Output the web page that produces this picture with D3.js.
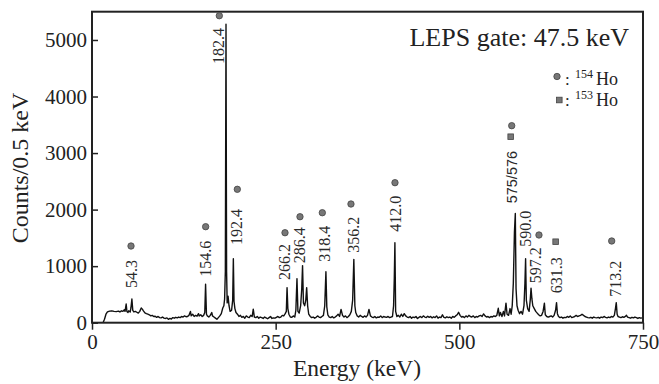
<!DOCTYPE html>
<html>
<head>
<meta charset="utf-8">
<script src="https://cdn.jsdelivr.net/npm/d3@7"></script>
<style>
  html, body { margin: 0; padding: 0; background: #fff; }
  svg { display: block; font-family: "Liberation Serif", "Times New Roman", serif; }
</style>
</head>
<body>
<div id="chart"></div>
<script>
// spectrum: [energy keV, counts]
const spectrum = [
  [15,0],[17,60],[19,150],[21,190],[24,205],[27,210],[30,200],[33,195],[36,205],[38,190],[40,210],[42,200],[44,230],[45,200],
  [46.5,330],[47.5,200],[49,180],[50,210],[52,190],[53,260],[54.3,420],[55.5,220],[57,190],[59,200],[61,185],[63,170],[65,200],
  [67,260],[68.5,240],[70,210],[72,175],[74,160],[76,150],[78,140],[80,120],[82,130],[84,110],[86,115],[88,95],[90,110],[92,90],
  [94,85],[96,100],[98,80],[100,75],[102,85],[104,60],[106,75],[108,65],[110,90],[112,80],[114,95],[116,85],[118,100],[120,90],
  [122,110],[124,100],[126,120],[128,105],[130,110],[132,130],[134,200],[135,120],[137,150],[139,110],[141,130],[143,115],[145,160],
  [146,120],[148,140],[150,110],[152,130],[153.5,180],[154.6,680],[155.8,150],[157,120],[159,100],[161,130],[163,180],[164,120],
  [166,100],[168,80],[170,60],[172,90],[174,120],[176,160],[178,260],[179.5,300],[180.5,420],[181.5,900],[182.4,5280],[183.2,900],
  [184,350],[185.2,470],[186.5,300],[188,200],[190,220],[191.5,400],[192.4,1130],[193.3,380],[194.5,250],[196,180],[198,150],
  [200,110],[202,130],[204,95],[206,110],[208,80],[210,120],[212,100],[214,90],[216,130],[218,110],[219.5,240],[221,100],[223,90],
  [225,110],[227,80],[229,100],[231,90],[233,75],[235,100],[237,85],[239,70],[241,90],[243,110],[245,75],[247,85],[249,80],[251,95],
  [253,110],[255,90],[257,100],[259,130],[261,120],[263,160],[264.5,200],[265.5,620],[266.6,250],[268,150],[270,100],[272,95],
  [274,120],[276,100],[277.5,220],[279,780],[280.3,200],[282,170],[284,300],[285.5,600],[286.6,1010],[287.8,350],[289.5,300],
  [291,400],[292.2,620],[293.5,300],[295,150],[297,110],[299,90],[301,100],[303,80],[305,95],[307,120],[309,100],[311,90],[313,110],
  [315,130],[316.8,300],[318.4,900],[319.6,280],[321,140],[323,100],[325,90],[327,110],[329,85],[331,100],[333,120],[335,150],
  [337,110],[339,235],[341,130],[343,100],[345,120],[347,90],[349,110],[351,140],[353,200],[354.8,400],[356.4,1120],[357.8,300],
  [359,180],[361,120],[363,100],[365,130],[367,110],[369,95],[371,120],[373,100],[375,130],[377,235],[379,120],[381,100],[383,90],
  [385,110],[387,85],[389,100],[391,95],[393,120],[395,90],[397,110],[399,100],[401,95],[403,110],[405,90],[407,100],[409,110],
  [410.5,300],[411.5,800],[412.3,1415],[413.3,200],[415,110],[417,130],[419,100],[421,150],[423,110],[425,160],[427,120],[429,100],
  [431,90],[433,110],[435,80],[437,100],[439,90],[441,110],[443,75],[445,95],[447,110],[449,90],[451,120],[453,100],[455,90],
  [457,115],[459,95],[461,110],[463,85],[465,105],[467,90],[469,120],[471,80],[473,100],[475,90],[477,140],[479,95],[481,85],
  [483,105],[485,90],[487,100],[489,80],[491,110],[493,95],[495,120],[497,140],[499,185],[501,130],[503,100],[505,110],[507,90],
  [509,120],[511,100],[513,130],[515,110],[517,100],[519,120],[521,90],[523,110],[525,100],[527,120],[529,130],[531,110],[533,155],
  [535,120],[537,100],[539,110],[541,90],[543,110],[545,100],[547,120],[549,110],[551,130],[553,255],[554.5,120],[556,180],[558,110],
  [560,200],[561.5,120],[563.5,345],[565,150],[567,130],[569,250],[570.5,150],[572,300],[573.5,700],[575,1600],[576.2,1930],
  [577.2,600],[578.5,300],[580,220],[582,160],[584,200],[586,150],[588,300],[589.3,700],[590.2,1130],[591.2,400],[593,250],[595,200],
  [596.5,400],[597.6,610],[598.8,420],[600,300],[602,250],[604,200],[606,170],[608,140],[610,120],[612,130],[614,200],[615.8,345],
  [617,140],[619,110],[621,100],[623,110],[625,120],[627,100],[629,130],[631,220],[632.3,355],[633.5,160],[635,110],[637,90],
  [639,100],[641,80],[643,95],[645,90],[647,110],[649,95],[651,120],[653,90],[655,100],[657,110],[659,130],[661,110],[663,120],
  [665,130],[667,150],[669,130],[671,110],[673,100],[675,90],[677,85],[679,95],[681,80],[683,100],[685,90],[687,85],[689,95],
  [691,80],[693,100],[695,90],[697,110],[699,95],[701,85],[703,100],[705,90],[707,110],[709,100],[711,130],[712.5,250],[713.6,355],
  [714.8,150],[716,110],[718,100],[720,90],[722,105],[724,95],[726,110],[727.5,130],[729,100],[731,90],[733,80],[735,95],[737,85],
  [739,100],[741,90],[743,75],[745,90],[747,80],[749,85]
];

// peak labels (text), where they sit (keV) and the count level their foot starts at
const peakLabels = ['54.3', '154.6', '182.4', '192.4', '266.2', '286.4', '318.4', '356.2', '412.0', '575/576', '590.0', '597.2', '631.3', '713.2'];
const labelEnergy = [53.1, 154.7, 171.9, 196.9, 261.7, 283.1, 316.2, 355.7, 413.4, 571.3, 590.7, 604.3, 632.5, 711.9];
const labelCounts = [614, 813, 4575, 1374, 755, 1050, 1079, 1238, 1609, 2111, 1344, 697, 520, 460];

// isotope markers: circle = 154Ho, square = 153Ho
const markerEnergy = [53.1, 154.7, 173.3, 197.8, 262.7, 283.1, 313.5, 352.5, 412.4, 571.3, 569.9, 608.4, 631.1, 707.4];
const markerCounts = [1356, 1698, 5429, 2359, 1591, 1874, 1945, 2099, 2476, 3484, 3289, 1551, 1432, 1445];
const markerType = ['c', 'c', 'c', 'c', 'c', 'c', 'c', 'c', 'c', 'c', 's', 'c', 's', 'c'];

const xTicks = [0, 250, 500, 750];
const yTicks = [0, 1000, 2000, 3000, 4000, 5000];

const width = 659;
const height = 384;
const plot = { left: 92, right: 643, top: 11.7, bottom: 322.7 };

const svg = d3.select('#chart')
  .append('svg')
  .attr('width', width)
  .attr('height', height);

const x = d3.scaleLinear().domain([0, 750]).range([plot.left, plot.right]);
const y = d3.scaleLinear().domain([0, 5500]).range([plot.bottom, plot.top]);

// X axis (ticks outward)
const xAxis = svg.append('g')
  .attr('transform', `translate(0,${plot.bottom})`)
  .call(d3.axisBottom(x).tickValues(xTicks).tickSize(7).tickPadding(4).tickFormat(d3.format('d')));
xAxis.select('.domain').remove();
xAxis.selectAll('line').attr('stroke', '#222').attr('stroke-width', 1.5);
xAxis.selectAll('text').attr('font-size', 21).attr('fill', '#222').attr('font-family', 'Liberation Serif, serif');

// Y axis (ticks inward)
const yAxis = svg.append('g')
  .attr('transform', `translate(${plot.left},0)`)
  .call(d3.axisLeft(y).tickValues(yTicks).tickSize(-6).tickPadding(5).tickFormat(d3.format('d')));
yAxis.select('.domain').remove();
yAxis.selectAll('line').attr('stroke', '#222').attr('stroke-width', 1.5);
yAxis.selectAll('text').attr('font-size', 21).attr('fill', '#222').attr('font-family', 'Liberation Serif, serif');

// spectrum
const line = d3.line()
  .x(d => x(d[0]))
  .y(d => y(d[1]));

svg.append('path')
  .datum(spectrum)
  .attr('fill', 'none')
  .attr('stroke', '#111')
  .attr('stroke-width', 1.4)
  .attr('stroke-linejoin', 'round')
  .attr('d', line);

// frame
svg.append('rect')
  .attr('x', plot.left)
  .attr('y', plot.top)
  .attr('width', plot.right - plot.left)
  .attr('height', plot.bottom - plot.top)
  .attr('fill', 'none')
  .attr('stroke', '#222')
  .attr('stroke-width', 2);

// peak energy labels
svg.selectAll('.peak-label')
  .data(peakLabels)
  .enter()
  .append('text')
  .attr('class', 'peak-label')
  .attr('transform', (d, i) => `translate(${x(labelEnergy[i])},${y(labelCounts[i])}) rotate(-90)`)
  .attr('text-anchor', 'start')
  .attr('dominant-baseline', 'central')
  .attr('font-size', d => d === '575/576' ? 14.5 : 16)
  .attr('font-family', d => d === '575/576' ? 'Liberation Sans, Arial, sans-serif' : 'Liberation Serif, serif')
  .attr('fill', '#2a2a2a')
  .text(d => d);

// isotope markers
const markers = svg.selectAll('.marker')
  .data(markerEnergy)
  .enter()
  .append('g')
  .attr('class', 'marker')
  .attr('transform', (d, i) => `translate(${x(d)},${y(markerCounts[i])})`);

markers.filter((d, i) => markerType[i] === 'c')
  .append('circle')
  .attr('r', 3.2)
  .attr('fill', '#777')
  .attr('stroke', '#444')
  .attr('stroke-width', 0.8);

markers.filter((d, i) => markerType[i] === 's')
  .append('rect')
  .attr('x', -2.8)
  .attr('y', -2.8)
  .attr('width', 5.6)
  .attr('height', 5.6)
  .attr('fill', '#777')
  .attr('stroke', '#444')
  .attr('stroke-width', 0.8);

// gate annotation
svg.append('text')
  .attr('x', 629)
  .attr('y', 46)
  .attr('text-anchor', 'end')
  .attr('font-size', 26)
  .attr('fill', '#222')
  .text('LEPS gate: 47.5 keV');

// legend
const legend = [
  { mass: '154', shape: 'c', cy: 76.5, base: 85 },
  { mass: '153', shape: 's', cy: 100, base: 106 }
];

legend.forEach(l => {
  const g = svg.append('g');
  if (l.shape === 'c') {
    g.append('circle').attr('cx', 557).attr('cy', l.cy).attr('r', 3.2)
      .attr('fill', '#777').attr('stroke', '#444').attr('stroke-width', 0.8);
  } else {
    g.append('rect').attr('x', 556.5).attr('y', l.cy - 2.8).attr('width', 5.6).attr('height', 5.6)
      .attr('fill', '#777').attr('stroke', '#444').attr('stroke-width', 0.8);
  }
  g.append('text').attr('x', 565).attr('y', l.base).attr('font-size', 17).attr('fill', '#222').text(':');
  g.append('text').attr('x', 575).attr('y', l.base - 7).attr('font-size', 12).attr('fill', '#222').text(l.mass);
  g.append('text').attr('x', 596).attr('y', l.base).attr('font-size', 18).attr('fill', '#222').text('Ho');
});

// axis titles
svg.append('text')
  .attr('x', 357)
  .attr('y', 376)
  .attr('text-anchor', 'middle')
  .attr('font-size', 23.5)
  .attr('fill', '#222')
  .text('Energy (keV)');

svg.append('text')
  .attr('transform', `translate(28,168) rotate(-90)`)
  .attr('text-anchor', 'middle')
  .attr('font-size', 24)
  .attr('fill', '#222')
  .text('Counts/0.5 keV');
</script>
</body>
</html>
